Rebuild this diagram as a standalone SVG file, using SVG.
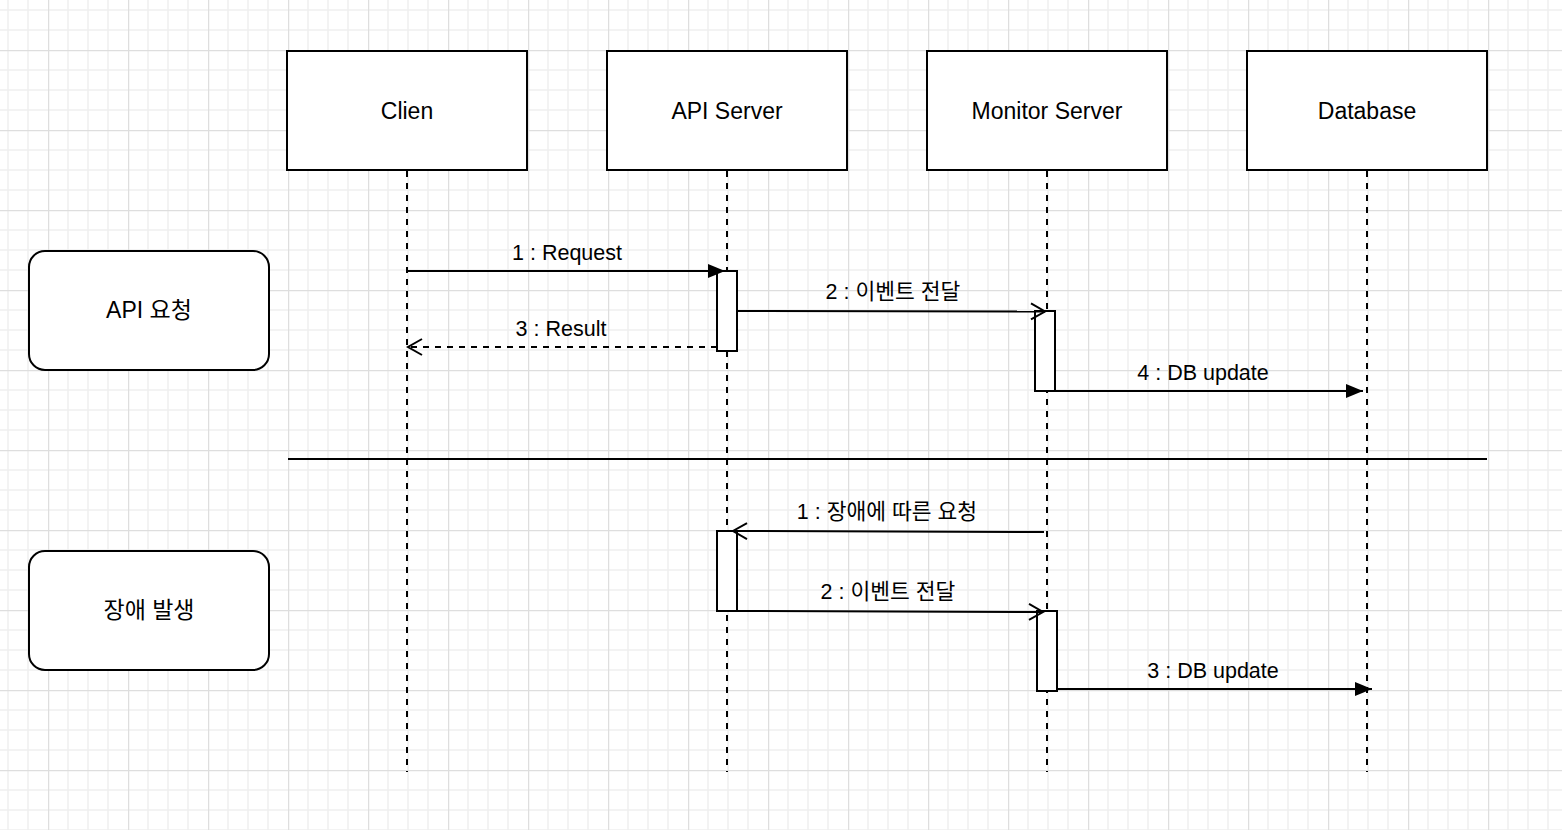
<svg xmlns="http://www.w3.org/2000/svg" width="1562" height="830" viewBox="0 0 1562 830">
  <defs>
    <pattern id="grid" x="48" y="50" width="80" height="80" patternUnits="userSpaceOnUse">
      <path d="M20 0V80M40 0V80M60 0V80M0 20H80M0 40H80M0 60H80" stroke="#f0f0f0" stroke-width="1.5" fill="none"/>
      <path d="M0.5 0V80M0 0.5H80" stroke="#dedede" stroke-width="1.5" fill="none"/>
    </pattern>
    <marker id="block" markerUnits="userSpaceOnUse" markerWidth="20" markerHeight="16" refX="17" refY="7" orient="auto">
      <path d="M0 0L17 7L0 14z" fill="#000"/>
    </marker>
    <marker id="open" markerUnits="userSpaceOnUse" markerWidth="20" markerHeight="20" refX="15" refY="9" orient="auto">
      <path d="M1 1L15 9L1 17" fill="none" stroke="#000" stroke-width="2"/>
    </marker>
  </defs>
  <style>
    .box{fill:#fff;stroke:#000;stroke-width:2}
    .life{stroke:#000;stroke-width:2;stroke-dasharray:6 6;fill:none}
    .act{fill:#fff;stroke:#000;stroke-width:2}
    .msg{stroke:#000;stroke-width:2;fill:none}
    .dash{stroke-dasharray:6 6}
    .lbl{font-family:"Liberation Sans","Noto Sans CJK KR",sans-serif;font-size:23px;fill:#000;text-anchor:middle}
    .elbl{font-family:"Liberation Sans","Noto Sans CJK KR",sans-serif;font-size:21.5px;fill:#000;text-anchor:middle}
  </style>
  <rect width="1562" height="830" fill="#fff"/>
  <rect width="1562" height="830" fill="url(#grid)"/>

  <g id="lifelines">
    <line class="life" x1="407" y1="171" x2="407" y2="772"/>
    <line class="life" x1="727" y1="171" x2="727" y2="772"/>
    <line class="life" x1="1047" y1="171" x2="1047" y2="772"/>
    <line class="life" x1="1367" y1="171" x2="1367" y2="772"/>
  </g>

  <g id="node-clien">
    <rect class="box" x="287" y="51" width="240" height="119"/>
    <text class="lbl" x="407" y="119">Clien</text>
  </g>
  <g id="node-api-server">
    <rect class="box" x="607" y="51" width="240" height="119"/>
    <text class="lbl" x="727" y="119">API Server</text>
  </g>
  <g id="node-monitor-server">
    <rect class="box" x="927" y="51" width="240" height="119"/>
    <text class="lbl" x="1047" y="119">Monitor Server</text>
  </g>
  <g id="node-database">
    <rect class="box" x="1247" y="51" width="240" height="119"/>
    <text class="lbl" x="1367" y="119">Database</text>
  </g>

  <g id="node-api-request">
    <rect class="box" x="29" y="251" width="240" height="119" rx="16"/>
    <text class="lbl" x="149" y="318">API 요청</text>
  </g>
  <g id="node-failure">
    <rect class="box" x="29" y="551" width="240" height="119" rx="16"/>
    <text class="lbl" x="149" y="618">장애 발생</text>
  </g>

  <g id="divider">
    <line x1="288" y1="459" x2="1487" y2="459" stroke="#000" stroke-width="2"/>
  </g>

  <g id="activations">
    <rect class="act" x="717" y="271" width="20" height="80"/>
    <rect class="act" x="1035" y="311" width="20" height="80"/>
    <rect class="act" x="717" y="531" width="20" height="80"/>
    <rect class="act" x="1037" y="611" width="20" height="80"/>
  </g>

  <g id="connectors">
    <line class="msg" x1="407" y1="271" x2="725" y2="271" marker-end="url(#block)"/>
    <text class="elbl" x="567" y="260">1 : Request</text>

    <line class="msg" x1="737" y1="311" x2="1045" y2="311.5" marker-end="url(#open)"/>
    <text class="elbl" x="893" y="299">2 : 이벤트 전달</text>

    <line class="msg dash" x1="717" y1="347" x2="408" y2="347" marker-end="url(#open)"/>
    <text class="elbl" x="561" y="336">3 : Result</text>

    <line class="msg" x1="1055" y1="391" x2="1363" y2="391" marker-end="url(#block)"/>
    <text class="elbl" x="1203" y="380">4 : DB update</text>

    <line class="msg" x1="1044" y1="532" x2="733" y2="531" marker-end="url(#open)"/>
    <text class="elbl" x="887" y="519">1 : 장애에 따른 요청</text>

    <line class="msg" x1="737" y1="611" x2="1043" y2="612" marker-end="url(#open)"/>
    <text class="elbl" x="888" y="599">2 : 이벤트 전달</text>

    <line class="msg" x1="1057" y1="689" x2="1372" y2="689" marker-end="url(#block)"/>
    <text class="elbl" x="1213" y="678">3 : DB update</text>
  </g>
</svg>
